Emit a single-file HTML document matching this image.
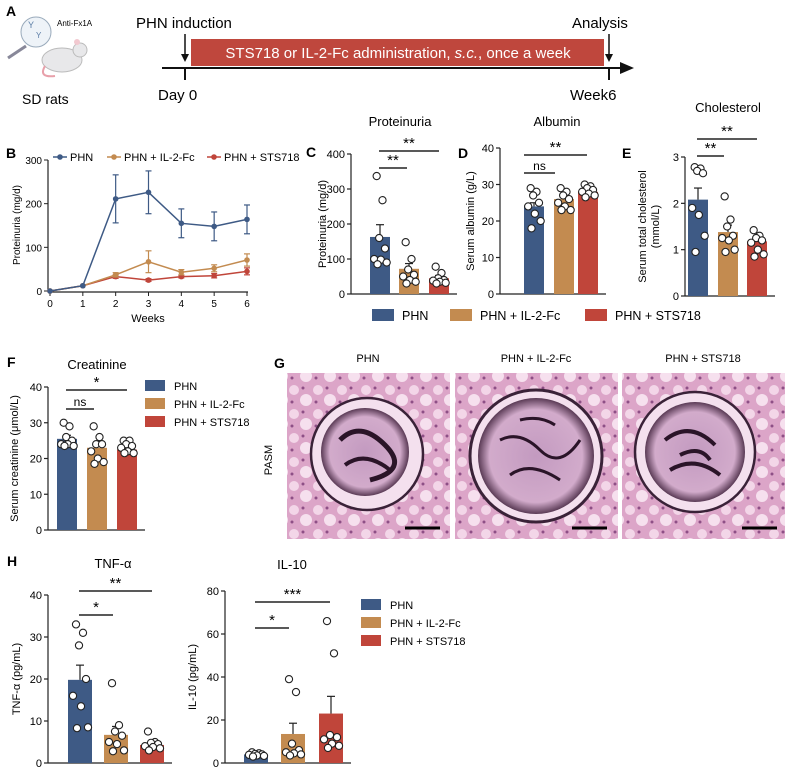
<!DOCTYPE html>
<html><head><meta charset="utf-8"><style>
html,body{margin:0;padding:0;background:#fff;}
svg{display:block;font-family:"Liberation Sans",Arial,sans-serif;}
</style></head><body>
<svg id="fig" width="788" height="770" viewBox="0 0 788 770">
<defs>
<radialGradient id="glom" cx="50%" cy="50%" r="50%"><stop offset="0" stop-color="#c39ac0"/><stop offset="0.8" stop-color="#d2abcb"/><stop offset="1" stop-color="#5a3a55"/></radialGradient>
<pattern id="tissue" width="24" height="24" patternUnits="userSpaceOnUse"><rect width="24" height="24" fill="#dca5c8"/><circle cx="6" cy="6" r="5" fill="#f3d6e8"/><circle cx="18" cy="16" r="6" fill="#f6e0ee"/><circle cx="15" cy="4" r="1.5" fill="#8e4f86"/><circle cx="4" cy="18" r="1.5" fill="#8e4f86"/></pattern>
</defs>
<g>
<text x="6" y="16" font-size="14" font-weight="bold">A</text>
<g>
<circle cx="36" cy="32" r="15" fill="#eef3f8" stroke="#9ab" stroke-width="1"/>
<text x="28" y="28" font-size="9" fill="#5b7da6">Y</text><text x="36" y="38" font-size="8" fill="#5b7da6">Y</text>
<line x1="8" y1="58" x2="26" y2="46" stroke="#889" stroke-width="3"/>
<ellipse cx="62" cy="60" rx="20" ry="12" fill="#e8e8ea" stroke="#bbb"/>
<circle cx="80" cy="50" r="7" fill="#e8e8ea" stroke="#bbb"/><circle cx="77" cy="42" r="3" fill="#f2c9d0"/>
<path d="M45 66 Q38 78 55 76" stroke="#e8a0aa" stroke-width="2" fill="none"/>
</g>
<text x="57" y="26" font-size="8">Anti-Fx1A</text>
<text x="22" y="104" font-size="14">SD rats</text>
<text x="136" y="28" font-size="15">PHN induction</text>
<text x="572" y="28" font-size="15">Analysis</text>
<rect x="191" y="39" width="413" height="27" fill="#bf473d"/>
<text x="398" y="58" font-size="15" fill="#fff" text-anchor="middle">STS718 or IL-2-Fc administration, <tspan font-style="italic">s.c.</tspan>, once a week</text>
<line x1="162" y1="68" x2="622" y2="68" stroke="#111" stroke-width="2"/>
<polygon points="620,62 634,68 620,74" fill="#111"/>
<line x1="185" y1="68" x2="185" y2="80" stroke="#111" stroke-width="2"/>
<line x1="609" y1="68" x2="609" y2="80" stroke="#111" stroke-width="2"/>
<line x1="185" y1="34" x2="185" y2="58" stroke="#111" stroke-width="1.5"/><polygon points="181,54 189,54 185,62" fill="#111"/>
<line x1="609" y1="34" x2="609" y2="58" stroke="#111" stroke-width="1.5"/><polygon points="605,54 613,54 609,62" fill="#111"/>
<text x="158" y="100" font-size="15">Day 0</text>
<text x="570" y="100" font-size="15">Week6</text>
</g>
<g id="charts"></g>
<g>
<text x="274" y="368" font-size="14" font-weight="bold">G</text>
<text x="272" y="460" font-size="11" transform="rotate(-90 272 460)" text-anchor="middle">PASM</text>
<text x="368" y="362" font-size="11" text-anchor="middle">PHN</text>
<text x="536" y="362" font-size="11" text-anchor="middle">PHN + IL-2-Fc</text>
<text x="703" y="362" font-size="11" text-anchor="middle">PHN + STS718</text>
<g><rect x="287" y="373" width="163" height="166" fill="url(#tissue)"/><circle cx="367" cy="454" r="56" fill="#f4e0ee" stroke="#3a2238" stroke-width="2.5"/><circle cx="365" cy="452" r="44" fill="url(#glom)"/><path d="M340 440 Q360 420 385 445 T370 480" stroke="#2a1428" stroke-width="5" fill="none"/><path d="M345 465 Q365 450 390 470" stroke="#2a1428" stroke-width="4" fill="none"/><line x1="405" y1="528" x2="440" y2="528" stroke="#000" stroke-width="3"/></g>
<g><rect x="455" y="373" width="163" height="166" fill="url(#tissue)"/><circle cx="536" cy="456" r="66" fill="#f4e0ee" stroke="#3a2238" stroke-width="3"/><circle cx="536" cy="456" r="58" fill="url(#glom)"/><path d="M500 440 Q520 430 540 450 T580 440 M510 475 Q530 460 560 480 M520 420 Q540 415 555 425" stroke="#2a1428" stroke-width="3" fill="none"/><line x1="572" y1="528" x2="607" y2="528" stroke="#000" stroke-width="3"/></g>
<g><rect x="622" y="373" width="163" height="166" fill="url(#tissue)"/><circle cx="695" cy="452" r="60" fill="#f4e0ee" stroke="#3a2238" stroke-width="2.5"/><circle cx="695" cy="452" r="50" fill="url(#glom)"/><path d="M665 440 Q690 420 715 445 M670 470 Q695 455 720 475 M680 455 Q700 445 710 460" stroke="#2a1428" stroke-width="4" fill="none"/><line x1="742" y1="528" x2="777" y2="528" stroke="#000" stroke-width="3"/></g>
</g>
</svg>
<script>
const NS='http://www.w3.org/2000/svg';
const COLORS=['#3e5a85','#c38b50','#c0453a'];
// Panel B data
const weeks=[0,1,2,3,4,5,6];
const bPHN=[0,12,211,226,155,148,164];
const bPHNerr=[0,0,55,49,33,33,33];
const bIL2=[0,12,37,67,43,52,71];
const bIL2err=[0,0,5,25,6,8,14];
const bSTS=[0,12,33,25,33,35,45];
const bSTSerr=[0,0,4,3,3,5,8];
const bTicks=[0,100,200,300];
// Panel C
const cMeans=[163,72,45];
const cSem=[35,15,8];
const cPts=[[337,268,160,130,100,98,90,85],[148,100,70,55,50,40,35,30],[78,60,45,40,38,35,32,30]];
const cTicks=[0,100,200,300,400];
// Panel D
const dMeans=[24,26,28];
const dSem=[1,0.8,0.4];
const dPts=[[29,28,27,25,24,22,20,18],[29,28,27,26,25,24,23,23],[30,29.5,29,28.5,28,27.5,27,26.5]];
const dTicks=[0,10,20,30,40];
// Panel E
const eMeans=[2.08,1.38,1.18];
const eSem=[0.25,0.15,0.08];
const ePts=[[2.78,2.75,2.7,2.65,1.9,1.75,1.3,0.95],[2.15,1.65,1.5,1.3,1.25,1.2,1.0,0.95],[1.42,1.3,1.25,1.2,1.15,1.0,0.9,0.85]];
const eTicks=[0,1,2,3];
// Panel F
const fMeans=[25.5,23,22.5];
const fSem=[1,1.5,0.6];
const fPts=[[30,29,26,25,24,24,23.5,23.5],[29,26,24,24,22,20,19,18.5],[25,25,24,23.5,23,22,21.5,21.5]];
const fTicks=[0,10,20,30,40];
// Panel H TNF
const tMeans=[19.8,6.7,4.3];
const tSem=[3.5,2,0.7];
const tPts=[[33,31,28,20,16,13.5,8.5,8.3],[19,9,7.5,6.5,5,4.5,3,2.8],[7.5,5,4.8,4.5,4,3.8,3.5,3]];
const tTicks=[0,10,20,30,40];
// Panel H IL-10
const iMeans=[4,13.5,23];
const iSem=[0.4,5,8];
const iPts=[[5,4.5,4.2,4,3.8,3.5,3.3,3],[39,33,9,6,5,4.5,4,3.5],[66,51,13,12,11,9,8,7]];
const iTicks=[0,20,40,60,80];
const groups=['PHN','PHN + IL-2-Fc','PHN + STS718'];

const root=document.getElementById('charts');
function el(tag,attrs,parent,txt){const e=document.createElementNS(NS,tag);for(const k in attrs)e.setAttribute(k,attrs[k]);if(txt!==undefined)e.textContent=txt;(parent||root).appendChild(e);return e;}

function barPanel(c){
  const g=el('g',{});
  
  
  const y=v=>c.y0-(v-c.min)/(c.max-c.min)*(c.y0-c.y1);
  const ax=el('line',{x1:c.ax,y1:c.y0,x2:c.ax,y2:c.y1,stroke:'#222','stroke-width':1.2},g);
  
  
  el('line',{x1:c.ax,y1:c.y0,x2:c.bx[2]+c.bw/2+8,y2:c.y0,stroke:'#222','stroke-width':1.2},g);
  c.ticks.forEach(t=>{el('line',{x1:c.ax-4,y1:y(t),x2:c.ax,y2:y(t),stroke:'#222','stroke-width':1.2},g);
    const tl=el('text',{x:c.ax-6,y:y(t)+4,'font-size':11,'text-anchor':'end'},g,String(t));
    
    });
  c.means.forEach((m,i)=>{
    const b=el('rect',{x:c.bx[i]-c.bw/2,y:y(m),width:c.bw,height:c.y0-y(m),fill:COLORS[i]},g);
    
    
    el('line',{x1:c.bx[i],y1:y(m),x2:c.bx[i],y2:y(m+c.sem[i]),stroke:'#222','stroke-width':1.2},g);
    el('line',{x1:c.bx[i]-4,y1:y(m+c.sem[i]),x2:c.bx[i]+4,y2:y(m+c.sem[i]),stroke:'#222','stroke-width':1.2},g);
    c.pts[i].forEach((p,j)=>{const off=[-4,3,-1,6,-7,1,8,-3][j]*c.bw/24;
      const d=el('circle',{cx:c.bx[i]+off,cy:y(p),r:3.6,fill:'#fff',stroke:'#222','stroke-width':1.1},g);
      
      });
  });
  const tt=el('text',{x:c.tx,y:c.ty,'font-size':13,'text-anchor':'middle'},g,c.title);
  
  
  c.ylab.forEach((l,k)=>{const yl=el('text',{x:0,y:0,'font-size':11,'text-anchor':'middle',transform:`translate(${c.lx+k*13},${(c.y0+c.y1)/2}) rotate(-90)`},g,l);
    
    });
  c.sig.forEach(s=>{el('line',{x1:s[0],y1:s[2],x2:s[1],y2:s[2],stroke:'#222','stroke-width':1.5},g);
    el('text',{x:(s[0]+s[1])/2,y:s[2]-3,'font-size':s[3]==='ns'?12:15,'text-anchor':'middle'},g,s[3]);});
  if(c.label){const L=el('text',{x:c.label[0],y:c.label[1],'font-size':14,'font-weight':'bold'},g,c.label[2]);
    
    }
}
function legendV(x,y0,dy){groups.forEach((gname,i)=>{
  const s=el('rect',{x:x,y:y0+i*dy-6,width:20,height:11,fill:COLORS[i]});
  
  
  const t=el('text',{x:x+29,y:y0+i*dy+4,'font-size':11},root,gname);
  
  });}

(function(){
  const g=el('g',{});
  
  
  const X=w=>50+w*(247-50)/6, Y=v=>291-v*(291-160)/300;
  el('line',{x1:48,y1:160,x2:48,y2:292,stroke:'#222','stroke-width':1.2},g);
  el('line',{x1:48,y1:292,x2:248,y2:292,stroke:'#222','stroke-width':1.2},g);
  bTicks.forEach(t=>{el('line',{x1:44,y1:Y(t),x2:48,y2:Y(t),stroke:'#222'},g);el('text',{x:42,y:Y(t)+4,'font-size':10,'text-anchor':'end'},g,String(t));});
  weeks.forEach(w=>{el('line',{x1:X(w),y1:292,x2:X(w),y2:296,stroke:'#222'},g);el('text',{x:X(w),y:307,'font-size':10,'text-anchor':'middle'},g,String(w));});
  el('text',{x:148,y:322,'font-size':11,'text-anchor':'middle'},g,'Weeks');
  el('text',{x:0,y:0,'font-size':10,'text-anchor':'middle',transform:'translate(20,225) rotate(-90)'},g,'Proteinuria (mg/d)');
  el('text',{x:6,y:158,'font-size':14,'font-weight':'bold'},g,'B');
  [[bSTS,bSTSerr,2],[bIL2,bIL2err,1],[bPHN,bPHNerr,0]].forEach(([v,e,ci])=>{
    const col=COLORS[ci];
    const p=el('polyline',{points:weeks.map((w,i)=>X(w)+','+Y(v[i])).join(' '),fill:'none',stroke:col,'stroke-width':1.5},g);
    
    
    weeks.forEach((w,i)=>{if(e[i]>0){el('line',{x1:X(w),y1:Y(v[i]-e[i]),x2:X(w),y2:Y(v[i]+e[i]),stroke:col,'stroke-width':1.2},g);
      [v[i]-e[i],v[i]+e[i]].forEach(q=>el('line',{x1:X(w)-3,y1:Y(q),x2:X(w)+3,y2:Y(q),stroke:col,'stroke-width':1.2},g));}
      const pt=el('circle',{cx:X(w),cy:Y(v[i]),r:2.8,fill:col},g);
      
      });
  });
  const lx=[53,107,207];
  groups.forEach((n,i)=>{el('line',{x1:lx[i],y1:157,x2:lx[i]+14,y2:157,stroke:COLORS[i],'stroke-width':1.5},g);
    el('circle',{cx:lx[i]+7,cy:157,r:2.8,fill:COLORS[i]},g);
    const t=el('text',{x:lx[i]+17,y:161,'font-size':11},g,n);
    
    });
})();

barPanel({name:'panel-c-proteinuria',ax:351,y0:294,y1:154,min:0,max:400,ticks:cTicks,bx:[380,409,439],bw:20,means:cMeans,sem:cSem,pts:cPts,title:'Proteinuria',tx:400,ty:126,ylab:['Proteinuria (mg/d)'],lx:326,sig:[[379,439,151,'**'],[379,407,168,'**']],label:[306,157,'C']});
barPanel({name:'panel-d-albumin',ax:500,y0:294,y1:148,min:0,max:40,ticks:dTicks,bx:[534,564,588],bw:20,means:dMeans,sem:dSem,pts:dPts,title:'Albumin',tx:557,ty:126,ylab:['Serum albumin (g/L)'],lx:474,sig:[[524,587,155,'**'],[524,555,173,'ns']],label:[458,158,'D']});
barPanel({name:'panel-e-cholesterol',ax:685,y0:296,y1:157,min:0,max:3,ticks:eTicks,bx:[698,728,757],bw:20,means:eMeans,sem:eSem,pts:ePts,title:'Cholesterol',tx:728,ty:112,ylab:['Serum total cholesterol','(mmol/L)'],lx:646,sig:[[697,757,139,'**'],[697,724,156,'**']],label:[622,158,'E']});
barPanel({name:'panel-f-creatinine',ax:48,y0:530,y1:387,min:0,max:40,ticks:fTicks,bx:[67,97,127],bw:20,means:fMeans,sem:fSem,pts:fPts,title:'Creatinine',tx:97,ty:369,ylab:['Serum creatinine (μmol/L)'],lx:18,sig:[[66,127,390,'*'],[66,94,409,'ns']],label:[7,367,'F']});
barPanel({name:'panel-h-tnf',ax:48,y0:763,y1:595,min:0,max:40,ticks:tTicks,bx:[80,116,152],bw:24,means:tMeans,sem:tSem,pts:tPts,title:'TNF-α',tx:113,ty:568,ylab:['TNF-α (pg/mL)'],lx:20,sig:[[79,152,591,'**'],[79,113,615,'*']],label:[7,566,'H']});
barPanel({name:'panel-h-il10',ax:225,y0:763,y1:591,min:0,max:80,ticks:iTicks,bx:[256,293,331],bw:24,means:iMeans,sem:iSem,pts:iPts,title:'IL-10',tx:292,ty:569,ylab:['IL-10 (pg/mL)'],lx:196,sig:[[255,330,602,'***'],[255,289,628,'*']]});

(function(){const xs=[372,450,585];groups.forEach((n,i)=>{
  const s=el('rect',{x:xs[i],y:309,width:22,height:12,fill:COLORS[i]});
  
  
  const t=el('text',{x:xs[i]+30,y:320,'font-size':12.5},root,n);
  
  });})();
legendV(145,386,18);
legendV(361,605,18);
</script>
</body></html>
